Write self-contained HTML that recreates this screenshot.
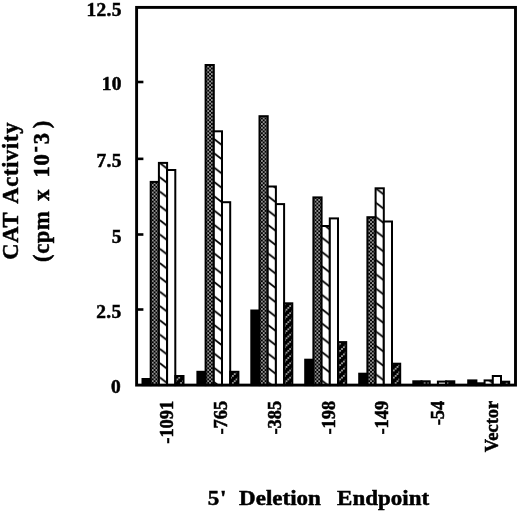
<!DOCTYPE html>
<html><head><meta charset="utf-8"><style>
html,body{margin:0;padding:0;background:#fff;}
body{width:520px;height:513px;overflow:hidden;}
svg{display:block;}
text{font-family:"Liberation Serif",serif;font-weight:bold;fill:#000;stroke:#000;stroke-width:0.5px;}
svg{filter:grayscale(1);}
</style></head><body>
<svg width="520" height="513" viewBox="0 0 520 513">
<defs>
<pattern id="stip" patternUnits="userSpaceOnUse" x="0.075" y="2.825" width="3.7" height="3.7">
<rect width="3.7" height="3.7" fill="#000"/>
<rect x="0.22" y="0.22" width="1.4" height="1.4" fill="#fff"/>
<rect x="2.07" y="2.07" width="1.4" height="1.4" fill="#fff"/>
</pattern>
<pattern id="hat0" patternUnits="userSpaceOnUse" x="159.8" y="5.6" width="18.3333" height="14.3"><rect width="18.3333" height="14.3" fill="#fff"/><path d="M0,-14.3 L18.3333,0 M0,0 L18.3333,14.3 M0,14.3 L18.3333,28.60" stroke="#000" stroke-width="1.7" fill="none"/></pattern>
<pattern id="hat1" patternUnits="userSpaceOnUse" x="214.2" y="10.3" width="18.3333" height="14.3"><rect width="18.3333" height="14.3" fill="#fff"/><path d="M0,-14.3 L18.3333,0 M0,0 L18.3333,14.3 M0,14.3 L18.3333,28.60" stroke="#000" stroke-width="1.7" fill="none"/></pattern>
<pattern id="hat2" patternUnits="userSpaceOnUse" x="268.3" y="10.5" width="18.3333" height="14.3"><rect width="18.3333" height="14.3" fill="#fff"/><path d="M0,-14.3 L18.3333,0 M0,0 L18.3333,14.3 M0,14.3 L18.3333,28.60" stroke="#000" stroke-width="1.7" fill="none"/></pattern>
<pattern id="hat3" patternUnits="userSpaceOnUse" x="321.8" y="8.7" width="18.3333" height="14.3"><rect width="18.3333" height="14.3" fill="#fff"/><path d="M0,-14.3 L18.3333,0 M0,0 L18.3333,14.3 M0,14.3 L18.3333,28.60" stroke="#000" stroke-width="1.7" fill="none"/></pattern>
<pattern id="hat4" patternUnits="userSpaceOnUse" x="376.4" y="2.8" width="18.3333" height="14.3"><rect width="18.3333" height="14.3" fill="#fff"/><path d="M0,-14.3 L18.3333,0 M0,0 L18.3333,14.3 M0,14.3 L18.3333,28.60" stroke="#000" stroke-width="1.7" fill="none"/></pattern>
<pattern id="hat5" patternUnits="userSpaceOnUse" x="430.6" y="5.0" width="18.3333" height="14.3"><rect width="18.3333" height="14.3" fill="#fff"/><path d="M0,-14.3 L18.3333,0 M0,0 L18.3333,14.3 M0,14.3 L18.3333,28.60" stroke="#000" stroke-width="1.7" fill="none"/></pattern>
<pattern id="hat6" patternUnits="userSpaceOnUse" x="484.8" y="5.0" width="18.3333" height="14.3"><rect width="18.3333" height="14.3" fill="#fff"/><path d="M0,-14.3 L18.3333,0 M0,0 L18.3333,14.3 M0,14.3 L18.3333,28.60" stroke="#000" stroke-width="1.7" fill="none"/></pattern>

<pattern id="dhat" patternUnits="userSpaceOnUse" x="2.525" y="4.44" width="7.4000" height="7.16">
<rect width="7.4000" height="7.16" fill="#000"/>
<rect x="0.220" y="5.570" width="1.4" height="1.4" fill="#fff"/><rect x="2.070" y="3.780" width="1.4" height="1.4" fill="#fff"/><rect x="3.920" y="1.990" width="1.4" height="1.4" fill="#fff"/><rect x="5.770" y="0.200" width="1.4" height="1.4" fill="#fff"/>
</pattern>
</defs>

<rect x="142.50" y="379.00" width="8.20" height="6.10" fill="#000" stroke="#000" stroke-width="2.0"/>
<rect x="150.70" y="181.90" width="8.20" height="203.20" fill="url(#stip)" stroke="#000" stroke-width="2.0"/>
<rect x="158.90" y="162.90" width="8.20" height="222.20" fill="url(#hat0)" stroke="#000" stroke-width="2.0"/>
<rect x="167.10" y="170.00" width="8.20" height="215.10" fill="#fff" stroke="#000" stroke-width="2.0"/>
<rect x="175.30" y="376.00" width="8.20" height="9.10" fill="url(#dhat)" stroke="#000" stroke-width="2.0"/>
<rect x="197.40" y="371.80" width="8.20" height="13.30" fill="#000" stroke="#000" stroke-width="2.0"/>
<rect x="205.60" y="65.00" width="8.20" height="320.10" fill="url(#stip)" stroke="#000" stroke-width="2.0"/>
<rect x="213.80" y="131.30" width="8.20" height="253.80" fill="url(#hat1)" stroke="#000" stroke-width="2.0"/>
<rect x="222.00" y="202.20" width="8.20" height="182.90" fill="#fff" stroke="#000" stroke-width="2.0"/>
<rect x="230.20" y="371.80" width="8.20" height="13.30" fill="url(#dhat)" stroke="#000" stroke-width="2.0"/>
<rect x="251.30" y="310.50" width="8.20" height="74.60" fill="#000" stroke="#000" stroke-width="2.0"/>
<rect x="259.50" y="116.20" width="8.20" height="268.90" fill="url(#stip)" stroke="#000" stroke-width="2.0"/>
<rect x="267.70" y="186.50" width="8.20" height="198.60" fill="url(#hat2)" stroke="#000" stroke-width="2.0"/>
<rect x="275.90" y="204.10" width="8.20" height="181.00" fill="#fff" stroke="#000" stroke-width="2.0"/>
<rect x="284.10" y="303.30" width="8.20" height="81.80" fill="url(#dhat)" stroke="#000" stroke-width="2.0"/>
<rect x="305.20" y="359.70" width="8.20" height="25.40" fill="#000" stroke="#000" stroke-width="2.0"/>
<rect x="313.40" y="197.40" width="8.20" height="187.70" fill="url(#stip)" stroke="#000" stroke-width="2.0"/>
<rect x="321.60" y="226.00" width="8.20" height="159.10" fill="url(#hat3)" stroke="#000" stroke-width="2.0"/>
<rect x="329.80" y="218.40" width="8.20" height="166.70" fill="#fff" stroke="#000" stroke-width="2.0"/>
<rect x="338.00" y="342.10" width="8.20" height="43.00" fill="url(#dhat)" stroke="#000" stroke-width="2.0"/>
<rect x="359.20" y="373.70" width="8.20" height="11.40" fill="#000" stroke="#000" stroke-width="2.0"/>
<rect x="367.40" y="217.20" width="8.20" height="167.90" fill="url(#stip)" stroke="#000" stroke-width="2.0"/>
<rect x="375.60" y="188.30" width="8.20" height="196.80" fill="url(#hat4)" stroke="#000" stroke-width="2.0"/>
<rect x="383.80" y="221.50" width="8.20" height="163.60" fill="#fff" stroke="#000" stroke-width="2.0"/>
<rect x="392.00" y="363.70" width="8.20" height="21.40" fill="url(#dhat)" stroke="#000" stroke-width="2.0"/>
<rect x="413.30" y="381.30" width="8.20" height="3.80" fill="#000" stroke="#000" stroke-width="2.0"/>
<rect x="421.50" y="381.30" width="8.20" height="3.80" fill="url(#stip)" stroke="#000" stroke-width="2.0"/>
<rect x="437.90" y="381.60" width="8.20" height="3.50" fill="#fff" stroke="#000" stroke-width="2.0"/>
<rect x="446.10" y="381.30" width="8.20" height="3.80" fill="url(#dhat)" stroke="#000" stroke-width="2.0"/>
<rect x="468.20" y="380.40" width="8.20" height="4.70" fill="#000" stroke="#000" stroke-width="2.0"/>
<rect x="476.40" y="383.30" width="8.20" height="1.80" fill="url(#stip)" stroke="#000" stroke-width="2.0"/>
<rect x="484.60" y="380.40" width="8.20" height="4.70" fill="url(#hat6)" stroke="#000" stroke-width="2.0"/>
<rect x="492.80" y="376.00" width="8.20" height="9.10" fill="#fff" stroke="#000" stroke-width="2.0"/>
<rect x="501.00" y="381.70" width="8.20" height="3.40" fill="url(#dhat)" stroke="#000" stroke-width="2.0"/>
<rect x="136.6" y="7.4" width="378.90" height="377.70" fill="none" stroke="#000" stroke-width="2.9"/>
<line x1="137" y1="82.0" x2="143.4" y2="82.0" stroke="#000" stroke-width="2.6"/>
<line x1="137" y1="158.85" x2="143.4" y2="158.85" stroke="#000" stroke-width="2.6"/>
<line x1="137" y1="234.5" x2="143.4" y2="234.5" stroke="#000" stroke-width="2.6"/>
<line x1="137" y1="309.5" x2="143.4" y2="309.5" stroke="#000" stroke-width="2.6"/>
<text transform="translate(121.8,15.5) scale(1.09,1)" font-size="17.8" text-anchor="end" letter-spacing="0.3">12.5</text>
<text transform="translate(121.8,90.0) scale(1.09,1)" font-size="17.8" text-anchor="end" letter-spacing="0.3">10</text>
<text transform="translate(121.8,166.7) scale(1.09,1)" font-size="17.8" text-anchor="end" letter-spacing="0.3">7.5</text>
<text transform="translate(121.8,242.5) scale(1.09,1)" font-size="17.8" text-anchor="end" letter-spacing="0.3">5</text>
<text transform="translate(121.4,317.5) scale(1.09,1)" font-size="17.8" text-anchor="end" letter-spacing="0.3">2.5</text>
<text transform="translate(121.0,392.5) scale(1.09,1)" font-size="17.8" text-anchor="end" letter-spacing="0.3">0</text>
<text transform="translate(172.9,400.8) scale(1.076,1) rotate(-90)" font-size="18.4" text-anchor="end">-1091</text>
<text transform="translate(226.8,400.8) scale(1.076,1) rotate(-90)" font-size="18.4" text-anchor="end">-765</text>
<text transform="translate(281.2,400.8) scale(1.076,1) rotate(-90)" font-size="18.4" text-anchor="end">-385</text>
<text transform="translate(334.5,400.8) scale(1.076,1) rotate(-90)" font-size="18.4" text-anchor="end">-198</text>
<text transform="translate(388.0,400.8) scale(1.076,1) rotate(-90)" font-size="18.4" text-anchor="end">-149</text>
<text transform="translate(443.7,400.8) scale(1.076,1) rotate(-90)" font-size="18.4" text-anchor="end">-54</text>
<text transform="translate(498.3,400.8) scale(1.076,1) rotate(-90)" font-size="18.4" text-anchor="end">Vector</text>
<text transform="translate(17.5,259.7) scale(1.0,1) rotate(-90)" font-size="22.5" letter-spacing="0.7">CAT</text>
<text transform="translate(17.5,203.7) scale(1.0,1) rotate(-90)" font-size="22.5" letter-spacing="0.7">Activity</text>
<text transform="translate(48.8,262.0) scale(1.03,1) rotate(-90)" font-size="22.5" letter-spacing="0.7">(cpm</text>
<text transform="translate(48.8,200.7) scale(1.03,1) rotate(-90)" font-size="22.5" letter-spacing="0.7">x</text>
<text transform="translate(48.8,177.4) scale(1.03,1) rotate(-90)" font-size="22.5" letter-spacing="0.7">10</text>
<text transform="translate(48.8,144.2) scale(1.03,1) rotate(-90)" font-size="22.5" letter-spacing="0.7">3</text>
<text transform="translate(48.8,128.2) scale(1.03,1) rotate(-90)" font-size="22.5" letter-spacing="0.7">)</text>
<rect x="34.8" y="146.7" width="2.6" height="5.1" fill="#000"/>
<text transform="translate(207.7,504.8) scale(1.08,1)" font-size="21.3" letter-spacing="0.0">5</text>
<text transform="translate(220.1,504.8) scale(1.08,1)" font-size="21.3" letter-spacing="0.0">'</text>
<text transform="translate(239.1,504.8) scale(1.08,1)" font-size="21.3" letter-spacing="0.0">Deletion</text>
<text transform="translate(337.1,504.8) scale(1.08,1)" font-size="21.3" letter-spacing="0.0">Endpoint</text>
</svg>
</body></html>
